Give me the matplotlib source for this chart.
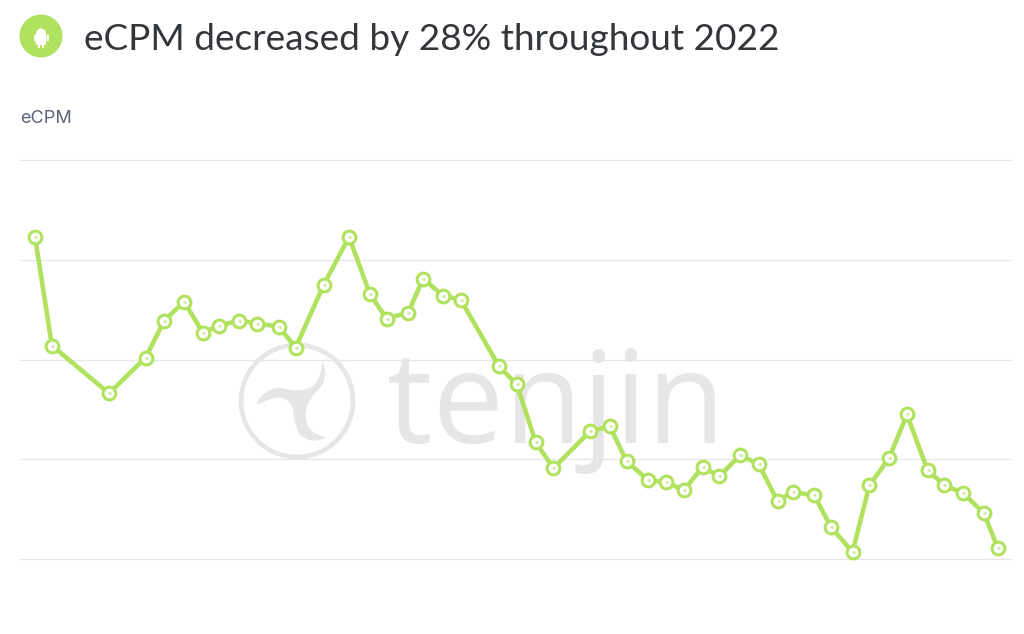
import matplotlib
matplotlib.use('Agg')
import matplotlib.pyplot as plt
from matplotlib.patches import Circle, FancyBboxPatch, PathPatch, Rectangle
from matplotlib.path import Path

# weeks through 2022
weeks = [0, 0.9, 3.95, 5.9, 6.9, 7.95, 8.95, 9.8, 10.9, 11.85, 13.0, 13.9, 15.4, 16.75, 17.85, 18.75,
         19.9, 20.7, 21.75, 22.7, 24.75, 25.7, 26.7, 27.65, 29.6, 30.65, 31.55, 32.7, 33.65, 34.6,
         35.6, 36.5, 37.6, 38.6, 39.6, 40.4, 41.55, 42.45, 43.6, 44.5, 45.55, 46.5, 47.6, 48.5,
         49.5, 50.6, 51.35]
ecpm = [3.23, 2.14, 1.66, 2.02, 2.39, 2.58, 2.27, 2.34, 2.39, 2.36, 2.33, 2.12, 2.75, 3.23, 2.66, 2.41,
        2.47, 2.81, 2.64, 2.60, 1.93, 1.75, 1.17, 0.91, 1.28, 1.33, 0.98, 0.79, 0.77, 0.69,
        0.92, 0.83, 1.04, 0.95, 0.58, 0.67, 0.64, 0.32, 0.07, 0.74, 1.01, 1.45, 0.89, 0.74,
        0.66, 0.46, 0.11]
grid_levels = [0, 1, 2, 3, 4]

title = 'eCPM decreased by 28% throughout 2022'
axis_title = 'eCPM'
watermark = 'tenjin'

GREEN = '#b1e25f'
W, H = 1024, 634

plt.rcParams['font.family'] = ['Lato', 'DejaVu Sans']
fig = plt.figure(figsize=(W / 100, H / 100), dpi=100, facecolor='white')

# overlay in pixel coordinates for the badge and the watermark
bg = fig.add_axes([0, 0, 1, 1], zorder=2)
bg.set_xlim(0, W)
bg.set_ylim(H, 0)
bg.axis('off')

ax = fig.add_axes([20 / W, 1 - 559 / H, (1011 - 20) / W, 399 / H], zorder=3)
ax.patch.set_alpha(0)
ax.set_xlim(-0.8, 52.05)
ax.set_ylim(0, 4)
ax.set_yticks(grid_levels)
ax.set_xticks([])
ax.tick_params(left=False, labelleft=False)
ax.grid(axis='y', color='#e6e6e8', lw=0.9, clip_on=False)
for s in ax.spines.values():
    s.set_visible(False)

ax.plot(weeks, ecpm, color=GREEN, lw=3.3, solid_joinstyle='round', clip_on=False, zorder=3)
ax.plot(weeks, ecpm, ls='none', marker='o', ms=9.2, mfc='white', mec=GREEN, mew=2.2,
        clip_on=False, zorder=4)
ax.plot(weeks, ecpm, ls='none', marker='<', ms=2.8, mfc='#c9e99a', mec='none',
        clip_on=False, zorder=5)

# watermark
WM = '#e6e6e6'
bg.add_patch(Circle((297, 401), 56, fc='none', ec=WM, lw=3.4, zorder=1))
verts = [(322, 362), (331, 378), (316, 392), (301, 408), (308, 427), (315, 436), (327, 437),
         (310, 446), (299, 433), (294, 424), (293, 409), (286, 389), (260, 404),
         (256, 404), (257, 402), (266, 387), (282, 388), (297, 393), (310, 388), (322, 380), (322, 362)]
codes = [Path.MOVETO] + [Path.CURVE3] * (len(verts) - 1)
bg.add_patch(PathPatch(Path(verts, codes), fc=WM, ec='none', zorder=1))
bg.text(387, 443, watermark, color=WM, fontsize=92, fontweight='normal', family=['Open Sans', 'DejaVu Sans'],
        ha='left', va='baseline', zorder=1)

# android badge
bg.add_patch(Circle((41, 36), 21.5, fc=GREEN, ec='none', zorder=2))
bg.add_patch(FancyBboxPatch((36, 35), 10, 10, boxstyle='round,pad=0,rounding_size=1.2', fc='white', ec='none', zorder=3))
bg.add_patch(Circle((41, 33.5), 5, fc='white', ec='none', zorder=3))
for rx in (34.2, 46.6):
    bg.add_patch(FancyBboxPatch((rx, 34.5), 2.2, 7, boxstyle='round,pad=0,rounding_size=1', fc='white', ec='none', zorder=3))
for rx in (37.8, 42):
    bg.add_patch(Rectangle((rx, 44), 2.2, 3.5, fc='white', ec='none', zorder=3))

fig.text(84 / W, 1 - 50 / H, title, fontsize=26.65, color='#33363b', ha='left', va='baseline')
fig.text(20 / W, 1 - 123 / H, axis_title, fontsize=13, color='#5b6478', family=['Inter', 'DejaVu Sans'],
         ha='left', va='baseline')

fig.savefig('out.png', dpi=100, facecolor='white')
